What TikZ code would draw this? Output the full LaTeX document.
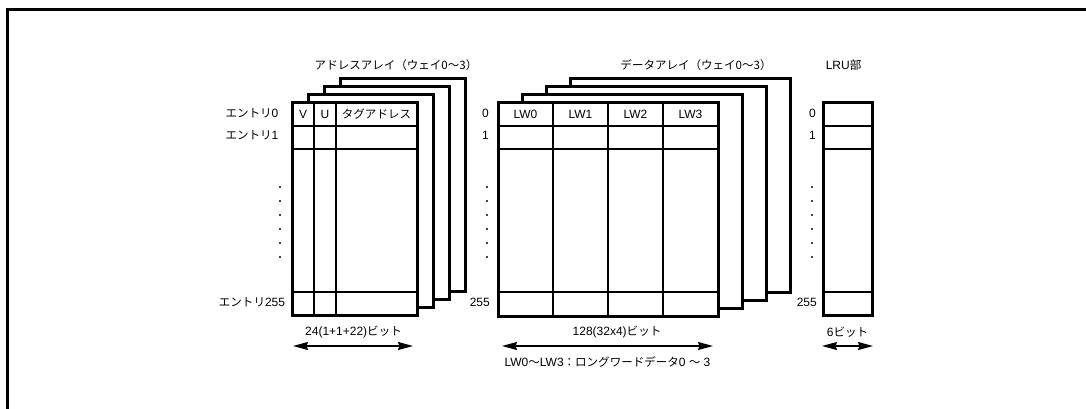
\documentclass[tikz,border=0pt]{standalone}
\usepackage{fontspec}
\setmainfont{Liberation Sans}
\newfontfamily\jp[Scale=0.96]{Noto Sans CJK JP}
\usetikzlibrary{arrows.meta}
\begin{document}
\begin{tikzpicture}[x=1pt,y=-1pt,
  boxline/.style={draw=black, line width=3pt, fill=white},
  border/.style={draw=black, line width=3pt},
  gridline/.style={draw=black, line width=1.5pt},
  lbl/.style={inner sep=0pt, font=\fontsize{12}{14}\selectfont},
  dimarrow/.style={line width=1.5pt, {Stealth[length=15pt,width=8pt,inset=1.5pt]}-{Stealth[length=15pt,width=8pt,inset=1.5pt]}},
  dotmark/.style={fill=black}]
\useasboundingbox (0,0) rectangle (1086,409);
% outer frame
\draw[line width=3pt] (7,409) -- (7,10) -- (1086,10);

% ---- address array ----
\foreach \i in {3,2,1}{
  \draw[boxline] ({292+16*\i},{103-8*\i}) rectangle ({417+16*\i},{315-8*\i});
}
\fill[white] (292,103) rectangle (417,315);
\draw[gridline] (292,126) -- (417,126) (292,149) -- (417,149) (292,292) -- (417,292)
  (314,103) -- (314,315) (336,103) -- (336,315);
\draw[border] (292,103) rectangle (417,315);
\node[lbl] (av) at (303,114.5) {V};
\node[lbl] (au) at (325,114.5) {U};
\node[lbl] (atag) at (376.5,114.5) {\jp タグアドレス};
\node[lbl] (ae0) at (252,113) {{\jp エントリ}0};
\node[lbl] (ae1) at (252,135) {{\jp エントリ}1};
\node[lbl] (ae255) at (252,302) {{\jp エントリ}255};
\node[lbl] (atitle) at (396,65) {\jp アドレスアレイ（ウェイ0～3）};
\foreach \y in {187,201,215,229,243,257}{ \fill[dotmark] (280,\y) circle (1.1pt); }
\coordinate (aL) at (293,346);
\coordinate (aR) at (413,346);
\draw[dimarrow] (aL) -- (aR);
\node[lbl] (abits) at (353.5,332) {24(1+1+22){\jp ビット}};

% ---- data array ----
\foreach \i in {3,2,1}{
  \draw[boxline] ({498+24*\i},{103-8*\i}) rectangle ({718+24*\i},{316-8*\i});
}
\fill[white] (498,103) rectangle (718,316);
\draw[gridline] (498,126) -- (718,126) (498,149) -- (718,149) (498,292) -- (718,292)
  (553,103) -- (553,316) (608,103) -- (608,316) (663,103) -- (663,316);
\draw[border] (498,103) rectangle (718,316);
\node[lbl] (lw0) at (525.5,114.5) {LW0};
\node[lbl] (lw1) at (580.5,114.5) {LW1};
\node[lbl] (lw2) at (635.5,114.5) {LW2};
\node[lbl] (lw3) at (690.5,114.5) {LW3};
\node[lbl,anchor=east] (d0) at (489,113) {0};
\node[lbl,anchor=east] (d1) at (489,135) {1};
\node[lbl,anchor=east] (d255) at (490,302) {255};
\node[lbl] (dtitle) at (696,65) {\jp データアレイ（ウェイ0～3）};
\foreach \y in {187,201,215,229,243,257}{ \fill[dotmark] (487,\y) circle (1.1pt); }
\coordinate (dL) at (502,346);
\coordinate (dR) at (713,346);
\draw[dimarrow] (dL) -- (dR);
\node[lbl] (dbits) at (617,332) {128(32x4){\jp ビット}};
\node[lbl] (dnote) at (607.5,362) {LW0{\jp ～}LW3{\jp ：ロングワードデータ}0 {\jp ～} 3};

% ---- LRU ----
\fill[white] (823,103) rectangle (872,315);
\draw[gridline] (823,126) -- (872,126) (823,149) -- (872,149) (823,292) -- (872,292);
\draw[border] (823,103) rectangle (872,315);
\node[lbl,anchor=east] (l0) at (816,113) {0};
\node[lbl,anchor=east] (l1) at (816,135) {1};
\node[lbl,anchor=east] (l255) at (817,302) {255};
\node[lbl] (ltitle) at (843.5,65) {LRU{\jp 部}};
\foreach \y in {187,201,215,229,243,257}{ \fill[dotmark] (812,\y) circle (1.1pt); }
\coordinate (lL) at (822,346);
\coordinate (lR) at (873,346);
\draw[dimarrow] (lL) -- (lR);
\node[lbl] (lbits) at (847.5,332) {6{\jp ビット}};
\end{tikzpicture}
\end{document}
